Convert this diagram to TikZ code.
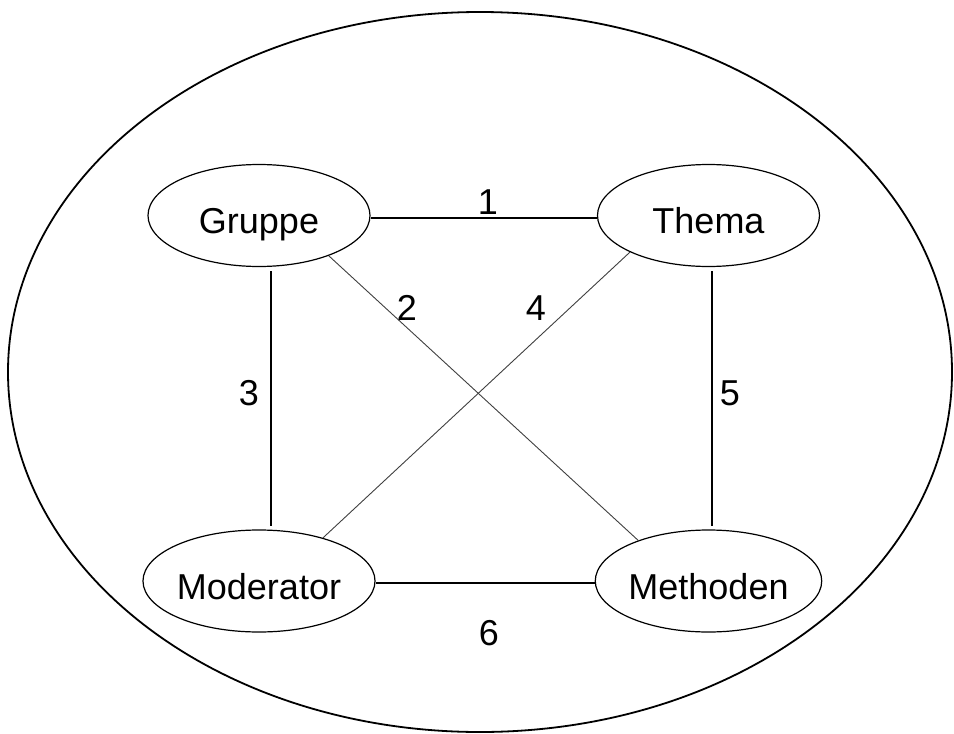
\documentclass[tikz,border=0pt]{standalone}
\usepackage{fontspec}
\setmainfont{Liberation Sans}
\usetikzlibrary{shapes.geometric}
\begin{document}
\begin{tikzpicture}[x=1pt,y=-1pt,
  box/.style={draw, ellipse, line width=1.2pt, minimum width=222pt, minimum height=102pt, inner sep=0pt, font=\fontsize{36}{40}\selectfont, text height=36pt, text depth=0pt},
  link/.style={line width=1.1pt},
  diag/.style={line width=0.9pt, black!75},
  num/.style={anchor=base, inner sep=0pt, font=\fontsize{36}{40}\selectfont}]
\path[use as bounding box, fill=white] (0,0) rectangle (954,734);
\draw[line width=1.8pt] (480,372) ellipse [x radius=472pt, y radius=360pt];

\node[box] (g) at (259,215.5) {Gruppe};
\node[box] (t) at (708.5,215.5) {Thema};
\node[box] (mo) at (259,581) {Moderator};
\node[box] (me) at (708.5,581) {Methoden};

\draw[link] ([yshift=-2.5pt]g.east) -- ([yshift=-2.5pt]t.west);
\draw[link, shorten <=4pt, shorten >=3pt] ([xshift=12pt]g.south) -- ([xshift=12pt]mo.north);
\draw[link, shorten <=4pt, shorten >=3pt] ([xshift=3.5pt]t.south) -- ([xshift=3.5pt]me.north);
\draw[link] ([yshift=-2pt]mo.east) -- ([yshift=-2pt]me.west);
\draw[diag] (g.-30.5) -- (me.150);
\draw[diag] (t.-155) -- (mo.34.3);

\node[num] (l1) at (488,214.5) {1};
\node[num] (l2) at (407,320) {2};
\node[num] (l4) at (536,320) {4};
\node[num] (l3) at (249,405) {3};
\node[num] (l5) at (730,405) {5};
\node[num] (l6) at (489,645) {6};
\end{tikzpicture}
\end{document}
